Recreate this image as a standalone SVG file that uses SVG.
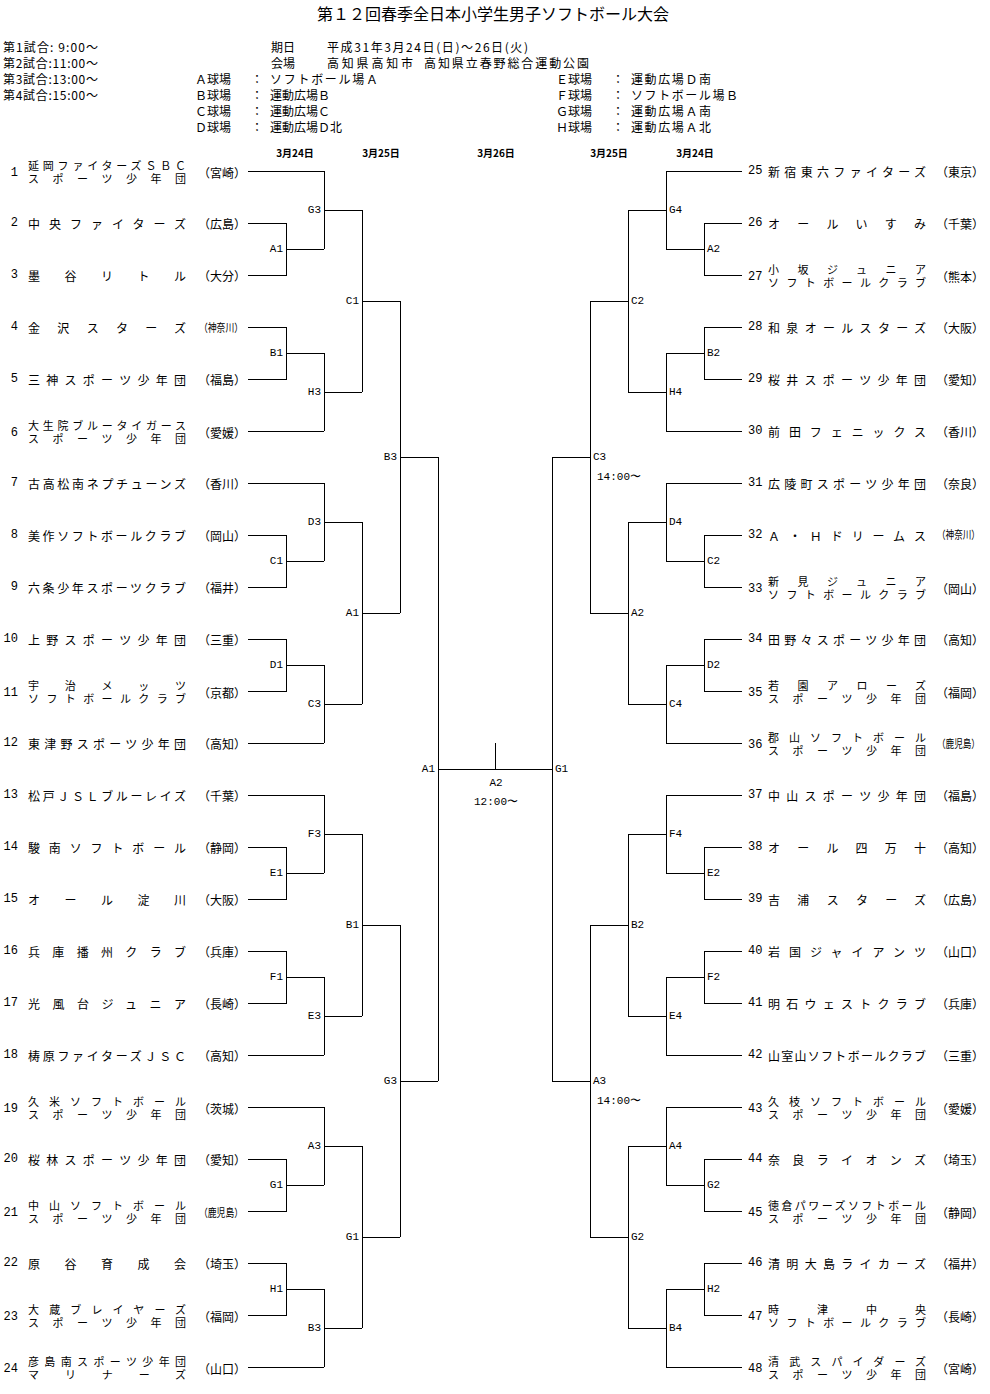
<svg xmlns="http://www.w3.org/2000/svg" width="990" height="1394" viewBox="0 0 990 1394">
<style>
text{fill:#000}
.h{font-family:"Noto Sans CJK JP",sans-serif;font-size:12px;dominant-baseline:central}
.ttl{font-family:"Noto Sans CJK JP",sans-serif;font-size:16px;dominant-baseline:central;text-anchor:middle}
.d{font-family:"Noto Sans CJK JP",sans-serif;font-size:10px;font-weight:bold;dominant-baseline:central;text-anchor:middle}
.nm{font-family:"Noto Sans CJK JP",sans-serif;font-size:12px;dominant-baseline:central}
.s{font-size:11px}
.pf{font-family:"Noto Sans CJK JP",sans-serif;font-size:12px;dominant-baseline:central}
.p3{font-size:11px}
.no{font-family:"Liberation Mono",monospace;font-size:12px;dominant-baseline:central}
.nol{text-anchor:end}
.lb{font-family:"Liberation Mono",monospace;font-size:11px;dominant-baseline:central}
.le{text-anchor:end}
.lm{text-anchor:middle}
.c{stroke:#000;stroke-width:1;fill:none;shape-rendering:crispEdges}
</style>
<defs>
<path id="half" d="M248,171H324M248,223H286V275H248M286,249H324M248,327H286V379H248M286,353H324M248,431H324M324,171V249M324,353V431M324,210H362M324,392H362M362,210V392M362,301H400
M248,483H324M248,535H286V587H248M286,561H324M248,639H286V691H248M286,665H324M248,743H324M324,483V561M324,665V743M324,522H362M324,704H362M362,522V704M362,613H400
M248,795H324M248,847H286V899H248M286,873H324M248,951H286V1003H248M286,977H324M248,1055H324M324,795V873M324,977V1055M324,834H362M324,1016H362M362,834V1016M362,925H400
M248,1107H324M248,1159H286V1211H248M286,1185H324M248,1263H286V1315H248M286,1289H324M248,1367H324M324,1107V1185M324,1289V1367M324,1146H362M324,1328H362M362,1146V1328M362,1237H400
M400,301V613M400,925V1237M400,457H438M400,1081H438M438,457V1081"/>
</defs>

<g id="header">
<text class="ttl" x="493" y="13">第１２回春季全日本小学生男子ソフトボール大会</text>
<text class="h" x="3" y="46" textLength="95">第1試合: 9:00〜</text>
<text class="h" x="3" y="62" textLength="95">第2試合:11:00〜</text>
<text class="h" x="3" y="78" textLength="95">第3試合:13:00〜</text>
<text class="h" x="3" y="94" textLength="95">第4試合:15:00〜</text>
<text class="h" x="271" y="46">期日</text>
<text class="h" x="327" y="46" textLength="201">平成31年3月24日(日)〜26日(火)</text>
<text class="h" x="271" y="62">会場</text>
<text class="h" x="327" y="62" textLength="86">高知県高知市</text>
<text class="h" x="424" y="62" textLength="165">高知県立春野総合運動公園</text>
<text class="h" x="195" y="78">Ａ球場</text><text class="h" x="251" y="78">：</text><text class="h" x="270" y="78" textLength="108">ソフトボール場Ａ</text>
<text class="h" x="195" y="94">Ｂ球場</text><text class="h" x="251" y="94">：</text><text class="h" x="270" y="94">運動広場Ｂ</text>
<text class="h" x="195" y="110">Ｃ球場</text><text class="h" x="251" y="110">：</text><text class="h" x="270" y="110">運動広場Ｃ</text>
<text class="h" x="195" y="126">Ｄ球場</text><text class="h" x="251" y="126">：</text><text class="h" x="270" y="126">運動広場Ｄ北</text>
<text class="h" x="556" y="78">Ｅ球場</text><text class="h" x="612" y="78">：</text><text class="h" x="631" y="78" textLength="80">運動広場Ｄ南</text>
<text class="h" x="556" y="94">Ｆ球場</text><text class="h" x="612" y="94">：</text><text class="h" x="631" y="94" textLength="107">ソフトボール場Ｂ</text>
<text class="h" x="556" y="110">Ｇ球場</text><text class="h" x="612" y="110">：</text><text class="h" x="631" y="110" textLength="80">運動広場Ａ南</text>
<text class="h" x="556" y="126">Ｈ球場</text><text class="h" x="612" y="126">：</text><text class="h" x="631" y="126" textLength="80">運動広場Ａ北</text>
<text class="d" x="295" y="152">3月24日</text>
<text class="d" x="381" y="152">3月25日</text>
<text class="d" x="496" y="152">3月26日</text>
<text class="d" x="609" y="152">3月25日</text>
<text class="d" x="695" y="152">3月24日</text>
</g>

<g id="connectors">
<use href="#half" class="c"/>
<use href="#half" class="c" transform="matrix(-1 0 0 1 990 0)"/>
<path class="c" d="M438,769H552M495,743V769"/>
</g>

<g id="match-labels">
<text class="lb le" x="283" y="249">A1</text><text class="lb le" x="283" y="353">B1</text><text class="lb le" x="283" y="561">C1</text><text class="lb le" x="283" y="665">D1</text>
<text class="lb le" x="283" y="873">E1</text><text class="lb le" x="283" y="977">F1</text><text class="lb le" x="283" y="1185">G1</text><text class="lb le" x="283" y="1289">H1</text>
<text class="lb le" x="321" y="210">G3</text><text class="lb le" x="321" y="392">H3</text><text class="lb le" x="321" y="522">D3</text><text class="lb le" x="321" y="704">C3</text>
<text class="lb le" x="321" y="834">F3</text><text class="lb le" x="321" y="1016">E3</text><text class="lb le" x="321" y="1146">A3</text><text class="lb le" x="321" y="1328">B3</text>
<text class="lb le" x="359" y="301">C1</text><text class="lb le" x="359" y="613">A1</text><text class="lb le" x="359" y="925">B1</text><text class="lb le" x="359" y="1237">G1</text>
<text class="lb le" x="397" y="457">B3</text><text class="lb le" x="397" y="1081">G3</text>
<text class="lb le" x="435" y="769">A1</text>
<text class="lb" x="707" y="249">A2</text><text class="lb" x="707" y="353">B2</text><text class="lb" x="707" y="561">C2</text><text class="lb" x="707" y="665">D2</text>
<text class="lb" x="707" y="873">E2</text><text class="lb" x="707" y="977">F2</text><text class="lb" x="707" y="1185">G2</text><text class="lb" x="707" y="1289">H2</text>
<text class="lb" x="669" y="210">G4</text><text class="lb" x="669" y="392">H4</text><text class="lb" x="669" y="522">D4</text><text class="lb" x="669" y="704">C4</text>
<text class="lb" x="669" y="834">F4</text><text class="lb" x="669" y="1016">E4</text><text class="lb" x="669" y="1146">A4</text><text class="lb" x="669" y="1328">B4</text>
<text class="lb" x="631" y="301">C2</text><text class="lb" x="631" y="613">A2</text><text class="lb" x="631" y="925">B2</text><text class="lb" x="631" y="1237">G2</text>
<text class="lb" x="593" y="457">C3</text><text class="lb" x="597" y="477">14:00〜</text>
<text class="lb" x="593" y="1081">A3</text><text class="lb" x="597" y="1101">14:00〜</text>
<text class="lb" x="555" y="769">G1</text>
<text class="lb lm" x="496" y="783">A2</text>
<text class="lb lm" x="496" y="802">12:00〜</text>
</g>

<g id="team-1"><text class="no nol" x="18" y="173">1</text><text class="nm s"><tspan x="28" y="164.5" textLength="158">延岡ファイターズＳＢＣ</tspan><tspan x="28" y="177.5" textLength="158">スポーツ少年団</tspan></text><text class="pf" x="198" y="172">（宮崎）</text></g>
<g id="team-2"><text class="no nol" x="18" y="223">2</text><text class="nm" x="28" y="223" textLength="158">中央ファイターズ</text><text class="pf" x="198" y="223">（広島）</text></g>
<g id="team-3"><text class="no nol" x="18" y="275">3</text><text class="nm" x="28" y="275" textLength="158">墨谷リトル</text><text class="pf" x="198" y="275">（大分）</text></g>
<g id="team-4"><text class="no nol" x="18" y="327">4</text><text class="nm" x="28" y="327" textLength="158">金沢スターズ</text><text class="pf p3" transform="translate(199,327) scale(0.8,1)">（神奈川）</text></g>
<g id="team-5"><text class="no nol" x="18" y="379">5</text><text class="nm" x="28" y="379" textLength="158">三神スポーツ少年団</text><text class="pf" x="198" y="379">（福島）</text></g>
<g id="team-6"><text class="no nol" x="18" y="433">6</text><text class="nm s"><tspan x="28" y="424.5" textLength="158">大生院ブルータイガース</tspan><tspan x="28" y="437.5" textLength="158">スポーツ少年団</tspan></text><text class="pf" x="198" y="432">（愛媛）</text></g>
<g id="team-7"><text class="no nol" x="18" y="483">7</text><text class="nm" x="28" y="483" textLength="158">古高松南ネプチューンズ</text><text class="pf" x="198" y="483">（香川）</text></g>
<g id="team-8"><text class="no nol" x="18" y="535">8</text><text class="nm" x="28" y="535" textLength="158">美作ソフトボールクラブ</text><text class="pf" x="198" y="535">（岡山）</text></g>
<g id="team-9"><text class="no nol" x="18" y="587">9</text><text class="nm" x="28" y="587" textLength="158">六条少年スポーツクラブ</text><text class="pf" x="198" y="587">（福井）</text></g>
<g id="team-10"><text class="no nol" x="18" y="639">10</text><text class="nm" x="28" y="639" textLength="158">上野スポーツ少年団</text><text class="pf" x="198" y="639">（三重）</text></g>
<g id="team-11"><text class="no nol" x="18" y="693">11</text><text class="nm s"><tspan x="28" y="684.5" textLength="158">宇治メッツ</tspan><tspan x="28" y="697.5" textLength="158">ソフトボールクラブ</tspan></text><text class="pf" x="198" y="692">（京都）</text></g>
<g id="team-12"><text class="no nol" x="18" y="743">12</text><text class="nm" x="28" y="743" textLength="158">東津野スポーツ少年団</text><text class="pf" x="198" y="743">（高知）</text></g>
<g id="team-13"><text class="no nol" x="18" y="795">13</text><text class="nm" x="28" y="795" textLength="158">松戸ＪＳＬブルーレイズ</text><text class="pf" x="198" y="795">（千葉）</text></g>
<g id="team-14"><text class="no nol" x="18" y="847">14</text><text class="nm" x="28" y="847" textLength="158">駿南ソフトボール</text><text class="pf" x="198" y="847">（静岡）</text></g>
<g id="team-15"><text class="no nol" x="18" y="899">15</text><text class="nm" x="28" y="899" textLength="158">オール淀川</text><text class="pf" x="198" y="899">（大阪）</text></g>
<g id="team-16"><text class="no nol" x="18" y="951">16</text><text class="nm" x="28" y="951" textLength="158">兵庫播州クラブ</text><text class="pf" x="198" y="951">（兵庫）</text></g>
<g id="team-17"><text class="no nol" x="18" y="1003">17</text><text class="nm" x="28" y="1003" textLength="158">光風台ジュニア</text><text class="pf" x="198" y="1003">（長崎）</text></g>
<g id="team-18"><text class="no nol" x="18" y="1055">18</text><text class="nm" x="28" y="1055" textLength="158">梼原ファイターズＪＳＣ</text><text class="pf" x="198" y="1055">（高知）</text></g>
<g id="team-19"><text class="no nol" x="18" y="1109">19</text><text class="nm s"><tspan x="28" y="1100.5" textLength="158">久米ソフトボール</tspan><tspan x="28" y="1113.5" textLength="158">スポーツ少年団</tspan></text><text class="pf" x="198" y="1108">（茨城）</text></g>
<g id="team-20"><text class="no nol" x="18" y="1159">20</text><text class="nm" x="28" y="1159" textLength="158">桜林スポーツ少年団</text><text class="pf" x="198" y="1159">（愛知）</text></g>
<g id="team-21"><text class="no nol" x="18" y="1213">21</text><text class="nm s"><tspan x="28" y="1204.5" textLength="158">中山ソフトボール</tspan><tspan x="28" y="1217.5" textLength="158">スポーツ少年団</tspan></text><text class="pf p3" transform="translate(199,1212) scale(0.8,1)">（鹿児島）</text></g>
<g id="team-22"><text class="no nol" x="18" y="1263">22</text><text class="nm" x="28" y="1263" textLength="158">原谷育成会</text><text class="pf" x="198" y="1263">（埼玉）</text></g>
<g id="team-23"><text class="no nol" x="18" y="1317">23</text><text class="nm s"><tspan x="28" y="1308.5" textLength="158">大蔵ブレイヤーズ</tspan><tspan x="28" y="1321.5" textLength="158">スポーツ少年団</tspan></text><text class="pf" x="198" y="1316">（福岡）</text></g>
<g id="team-24"><text class="no nol" x="18" y="1369">24</text><text class="nm s"><tspan x="28" y="1360.5" textLength="158">彦島南スポーツ少年団</tspan><tspan x="28" y="1373.5" textLength="158">マリナーズ</tspan></text><text class="pf" x="198" y="1368">（山口）</text></g>

<g id="team-25"><text class="no" x="748" y="171">25</text><text class="nm" x="768" y="171" textLength="158">新宿東六ファイターズ</text><text class="pf" x="936" y="171">（東京）</text></g>
<g id="team-26"><text class="no" x="748" y="223">26</text><text class="nm" x="768" y="223" textLength="158">オールいすみ</text><text class="pf" x="936" y="223">（千葉）</text></g>
<g id="team-27"><text class="no" x="748" y="277">27</text><text class="nm s"><tspan x="768" y="268.5" textLength="158">小坂ジュニア</tspan><tspan x="768" y="281.5" textLength="158">ソフトボールクラブ</tspan></text><text class="pf" x="936" y="276">（熊本）</text></g>
<g id="team-28"><text class="no" x="748" y="327">28</text><text class="nm" x="768" y="327" textLength="158">和泉オールスターズ</text><text class="pf" x="936" y="327">（大阪）</text></g>
<g id="team-29"><text class="no" x="748" y="379">29</text><text class="nm" x="768" y="379" textLength="158">桜井スポーツ少年団</text><text class="pf" x="936" y="379">（愛知）</text></g>
<g id="team-30"><text class="no" x="748" y="431">30</text><text class="nm" x="768" y="431" textLength="158">前田フェニックス</text><text class="pf" x="936" y="431">（香川）</text></g>
<g id="team-31"><text class="no" x="748" y="483">31</text><text class="nm" x="768" y="483" textLength="158">広陵町スポーツ少年団</text><text class="pf" x="936" y="483">（奈良）</text></g>
<g id="team-32"><text class="no" x="748" y="535">32</text><text class="nm" x="768" y="535" textLength="158">Ａ・Ｈドリームス</text><text class="pf p3" transform="translate(937,535) scale(0.78,1)">（神奈川）</text></g>
<g id="team-33"><text class="no" x="748" y="589">33</text><text class="nm s"><tspan x="768" y="580.5" textLength="158">新見ジュニア</tspan><tspan x="768" y="593.5" textLength="158">ソフトボールクラブ</tspan></text><text class="pf" x="936" y="588">（岡山）</text></g>
<g id="team-34"><text class="no" x="748" y="639">34</text><text class="nm" x="768" y="639" textLength="158">田野々スポーツ少年団</text><text class="pf" x="936" y="639">（高知）</text></g>
<g id="team-35"><text class="no" x="748" y="693">35</text><text class="nm s"><tspan x="768" y="684.5" textLength="158">若園アローズ</tspan><tspan x="768" y="697.5" textLength="158">スポーツ少年団</tspan></text><text class="pf" x="936" y="692">（福岡）</text></g>
<g id="team-36"><text class="no" x="748" y="745">36</text><text class="nm s"><tspan x="768" y="736.5" textLength="158">郡山ソフトボール</tspan><tspan x="768" y="749.5" textLength="158">スポーツ少年団</tspan></text><text class="pf p3" transform="translate(937,744) scale(0.78,1)">（鹿児島）</text></g>
<g id="team-37"><text class="no" x="748" y="795">37</text><text class="nm" x="768" y="795" textLength="158">中山スポーツ少年団</text><text class="pf" x="936" y="795">（福島）</text></g>
<g id="team-38"><text class="no" x="748" y="847">38</text><text class="nm" x="768" y="847" textLength="158">オール四万十</text><text class="pf" x="936" y="847">（高知）</text></g>
<g id="team-39"><text class="no" x="748" y="899">39</text><text class="nm" x="768" y="899" textLength="158">吉浦スターズ</text><text class="pf" x="936" y="899">（広島）</text></g>
<g id="team-40"><text class="no" x="748" y="951">40</text><text class="nm" x="768" y="951" textLength="158">岩国ジャイアンツ</text><text class="pf" x="936" y="951">（山口）</text></g>
<g id="team-41"><text class="no" x="748" y="1003">41</text><text class="nm" x="768" y="1003" textLength="158">明石ウェストクラブ</text><text class="pf" x="936" y="1003">（兵庫）</text></g>
<g id="team-42"><text class="no" x="748" y="1055">42</text><text class="nm" x="768" y="1055" textLength="158">山室山ソフトボールクラブ</text><text class="pf" x="936" y="1055">（三重）</text></g>
<g id="team-43"><text class="no" x="748" y="1109">43</text><text class="nm s"><tspan x="768" y="1100.5" textLength="158">久枝ソフトボール</tspan><tspan x="768" y="1113.5" textLength="158">スポーツ少年団</tspan></text><text class="pf" x="936" y="1108">（愛媛）</text></g>
<g id="team-44"><text class="no" x="748" y="1159">44</text><text class="nm" x="768" y="1159" textLength="158">奈良ライオンズ</text><text class="pf" x="936" y="1159">（埼玉）</text></g>
<g id="team-45"><text class="no" x="748" y="1213">45</text><text class="nm s"><tspan x="768" y="1204.5" textLength="158">徳倉パワーズソフトボール</tspan><tspan x="768" y="1217.5" textLength="158">スポーツ少年団</tspan></text><text class="pf" x="936" y="1212">（静岡）</text></g>
<g id="team-46"><text class="no" x="748" y="1263">46</text><text class="nm" x="768" y="1263" textLength="158">清明大島ライカーズ</text><text class="pf" x="936" y="1263">（福井）</text></g>
<g id="team-47"><text class="no" x="748" y="1317">47</text><text class="nm s"><tspan x="768" y="1308.5" textLength="158">時津中央</tspan><tspan x="768" y="1321.5" textLength="158">ソフトボールクラブ</tspan></text><text class="pf" x="936" y="1316">（長崎）</text></g>
<g id="team-48"><text class="no" x="748" y="1369">48</text><text class="nm s"><tspan x="768" y="1360.5" textLength="158">清武スパイダーズ</tspan><tspan x="768" y="1373.5" textLength="158">スポーツ少年団</tspan></text><text class="pf" x="936" y="1368">（宮崎）</text></g>
</svg>
